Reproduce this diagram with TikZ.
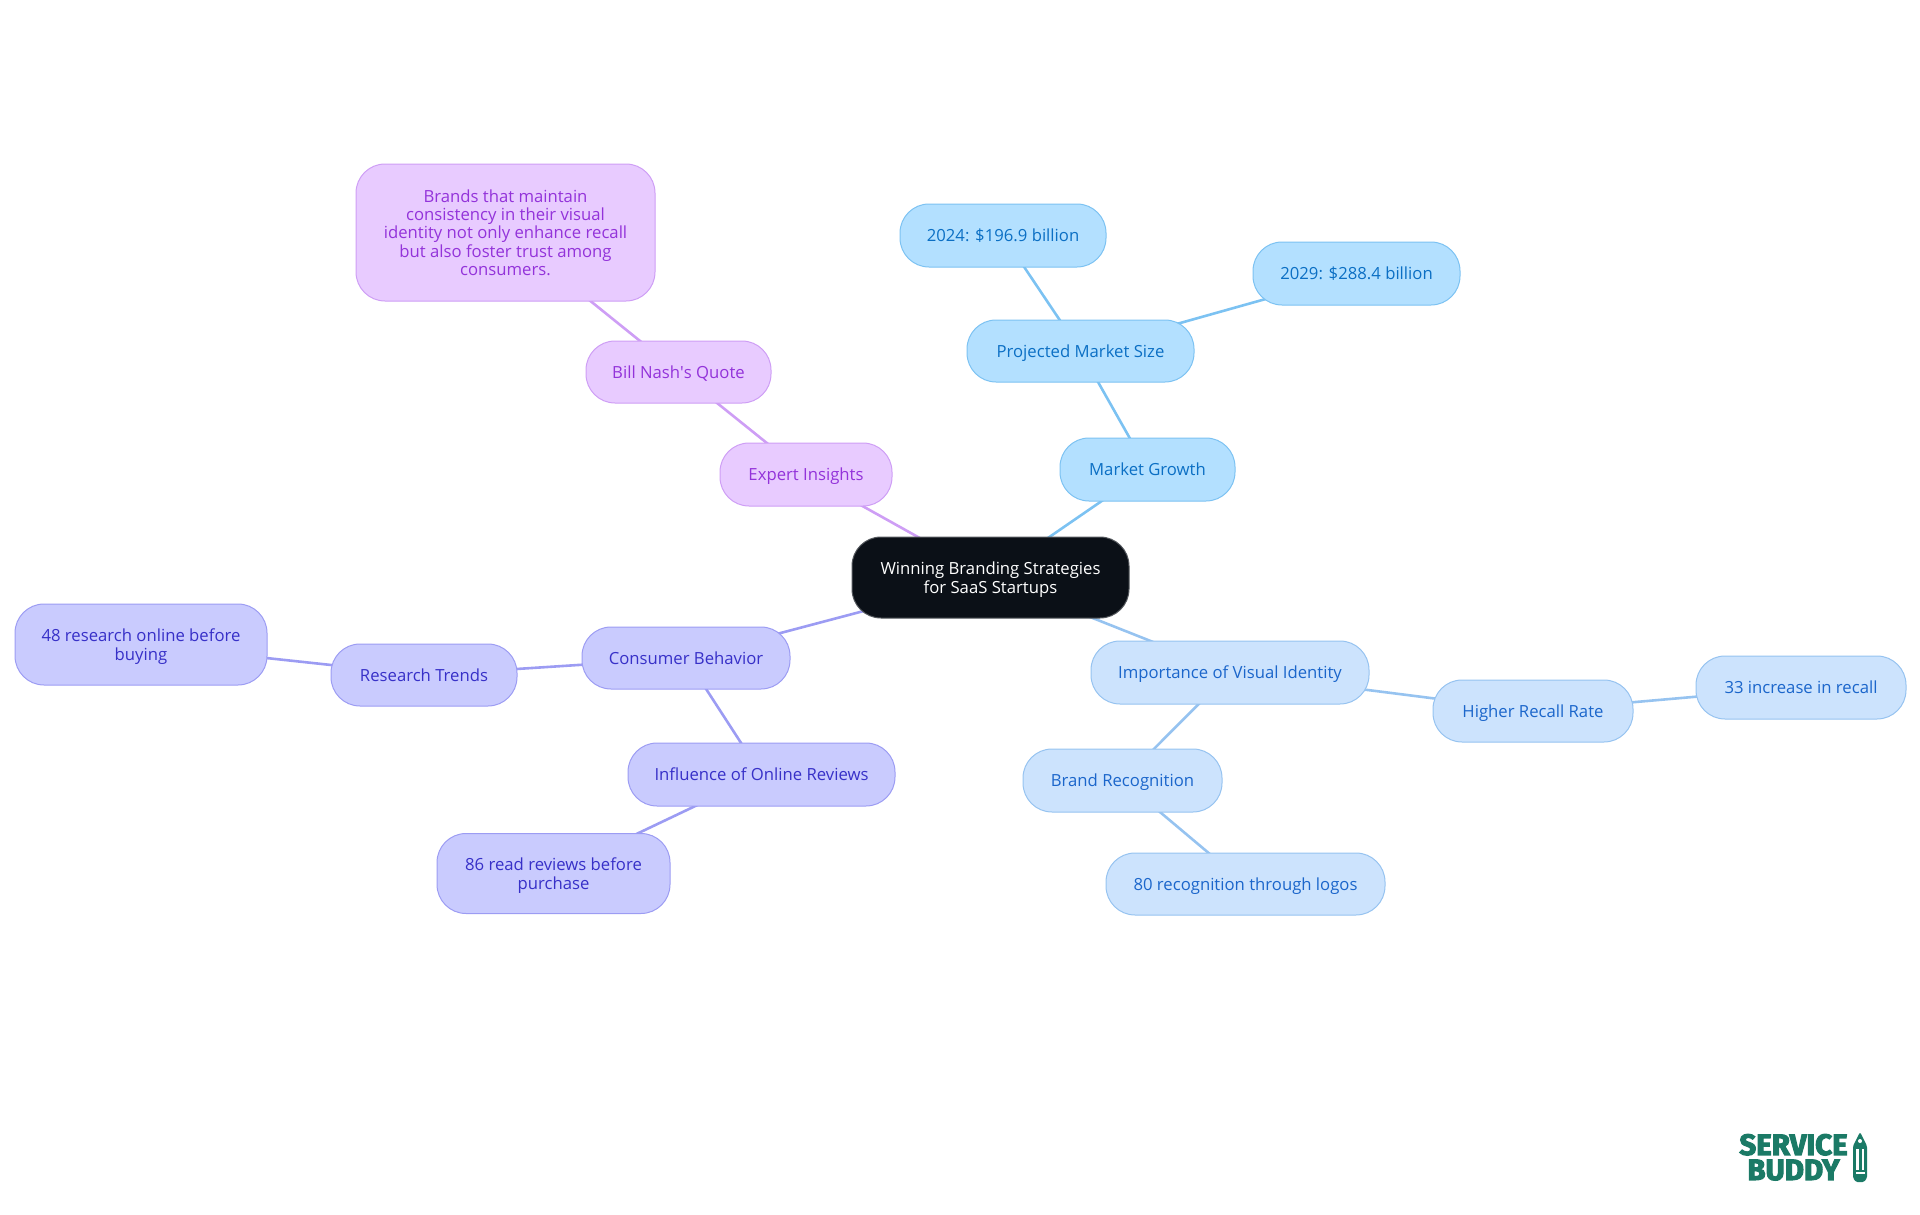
\documentclass[tikz,border=0pt]{standalone}
\usepackage{fontspec}
\setmainfont{Open Sans}
\newfontfamily\logofont[FakeBold=3.5]{Fira Sans Bold}
\usetikzlibrary{backgrounds}
\definecolor{rootfill}{HTML}{0B1017}
\definecolor{skyfill}{HTML}{B3E0FF}
\definecolor{skyline}{HTML}{7CC2F2}
\definecolor{skytext}{HTML}{0B6FC4}
\definecolor{bluefill}{HTML}{CCE3FD}
\definecolor{blueline}{HTML}{96C3F0}
\definecolor{bluetext}{HTML}{1B66CB}
\definecolor{indfill}{HTML}{C9CBFE}
\definecolor{indline}{HTML}{9C9CF3}
\definecolor{indtext}{HTML}{3730C8}
\definecolor{purfill}{HTML}{E8CBFF}
\definecolor{purline}{HTML}{CE9EF5}
\definecolor{purtext}{HTML}{9333DA}
\definecolor{logogreen}{HTML}{1B7A66}
\tikzset{
  idea/.style={rounded corners=29pt,align=center,inner sep=0pt,line width=1pt,text depth=0pt,
    font=\fontsize{16.7}{18.4}\selectfont},
  rootbox/.style={idea,fill=rootfill,draw=rootfill!70!white,text=white},
  skybox/.style={idea,fill=skyfill,draw=skyline,text=skytext},
  bluebox/.style={idea,fill=bluefill,draw=blueline,text=bluetext},
  indbox/.style={idea,fill=indfill,draw=indline,text=indtext},
  purbox/.style={idea,fill=purfill,draw=purline,text=purtext},
  skylink/.style={skyline,line width=2.6pt},
  bluelink/.style={blueline,line width=2.6pt},
  indlink/.style={indline,line width=2.6pt},
  purlink/.style={purline,line width=2.6pt},
  logotext/.style={inner sep=0pt,align=center,text depth=0pt,text=logogreen,
    font=\logofont\fontsize{29.5}{25}\selectfont},
}
\begin{document}
\begin{tikzpicture}[x=1pt,y=-1pt]
\useasboundingbox (0,0) rectangle (1920,1215);
\node[rootbox,minimum width=277pt,minimum height=81pt](root) at (990.5,577.5) {Winning Branding Strategies\\for SaaS Startups};
% market
\node[skybox,minimum width=175pt,minimum height=63pt](growth) at (1147.5,469.5) {Market Growth};
\node[skybox,minimum width=227pt,minimum height=62pt](size) at (1080.5,351) {Projected Market Size};
\node[skybox,minimum width=206pt,minimum height=63pt](y2024) at (1003,235.5) {2024: \$196.9 billion};
\node[skybox,minimum width=207pt,minimum height=63pt](y2029) at (1356.5,273.5) {2029: \$288.4 billion};
% identity
\node[bluebox,minimum width=278pt,minimum height=63pt](identity) at (1230,672.5) {Importance of Visual Identity};
\node[bluebox,minimum width=200pt,minimum height=62pt](recall) at (1533,711) {Higher Recall Rate};
\node[bluebox,minimum width=210pt,minimum height=63pt](increase) at (1801,687.5) {33 increase in recall};
\node[bluebox,minimum width=199pt,minimum height=63pt](brand) at (1122.5,780.5) {Brand Recognition};
\node[bluebox,minimum width=279pt,minimum height=62pt](logos) at (1245.5,884) {80 recognition through logos};
% consumers
\node[indbox,minimum width=208pt,minimum height=62pt](consumer) at (686,658) {Consumer Behavior};
\node[indbox,minimum width=186pt,minimum height=62pt](trends) at (424,675) {Research Trends};
\node[indbox,minimum width=252pt,minimum height=81pt](online) at (141,644.5) {48 research online before\\buying};
\node[indbox,minimum width=267pt,minimum height=63pt](reviews) at (761.5,774.5) {Influence of Online Reviews};
\node[indbox,minimum width=233pt,minimum height=80pt](read) at (553.5,873.5) {86 read reviews before\\purchase};
% experts
\node[purbox,minimum width=172pt,minimum height=63pt](expert) at (806,474.5) {Expert Insights};
\node[purbox,minimum width=185pt,minimum height=62pt](nash) at (678.5,372) {Bill Nash\textquotesingle s Quote};
\node[purbox,minimum width=299pt,minimum height=137pt](quote) at (505.5,232.5) {Brands that maintain\\consistency in their visual\\identity not only enhance recall\\but also foster trust among\\consumers.};
\begin{scope}[on background layer]
\draw[skylink](root.center)--(growth.center);
\draw[skylink](growth.center)--(size.center);
\draw[skylink](size.center)--(y2024.center);
\draw[skylink](size.center)--(y2029.center);
\draw[bluelink](root.center)--(identity.center);
\draw[bluelink](identity.center)--(recall.center);
\draw[bluelink](recall.center)--(increase.center);
\draw[bluelink](identity.center)--(brand.center);
\draw[bluelink](brand.center)--(logos.center);
\draw[indlink](root.center)--(consumer.center);
\draw[indlink](consumer.center)--(trends.center);
\draw[indlink](trends.center)--(online.center);
\draw[indlink](consumer.center)--(reviews.center);
\draw[indlink](reviews.center)--(read.center);
\draw[purlink](root.center)--(expert.center);
\draw[purlink](expert.center)--(nash.center);
\draw[purlink](nash.center)--(quote.center);
\end{scope}
% logo
\node[logotext](service) at (1793.5,1157) {SERVICE\\BUDDY};
\fill[logogreen,rounded corners=1.5pt] (1860,1132)--(1867,1146)--(1867,1178)--(1864,1182)--(1856,1182)--(1853,1178)--(1853,1146)--cycle;
\fill[white] (1860,1141) circle (2pt);
\fill[white] (1856,1149) rectangle (1858.5,1170);
\fill[white] (1861.5,1149) rectangle (1864,1170);
\fill[white] (1855.5,1172) rectangle (1864.5,1173.5);
\end{tikzpicture}
\end{document}
